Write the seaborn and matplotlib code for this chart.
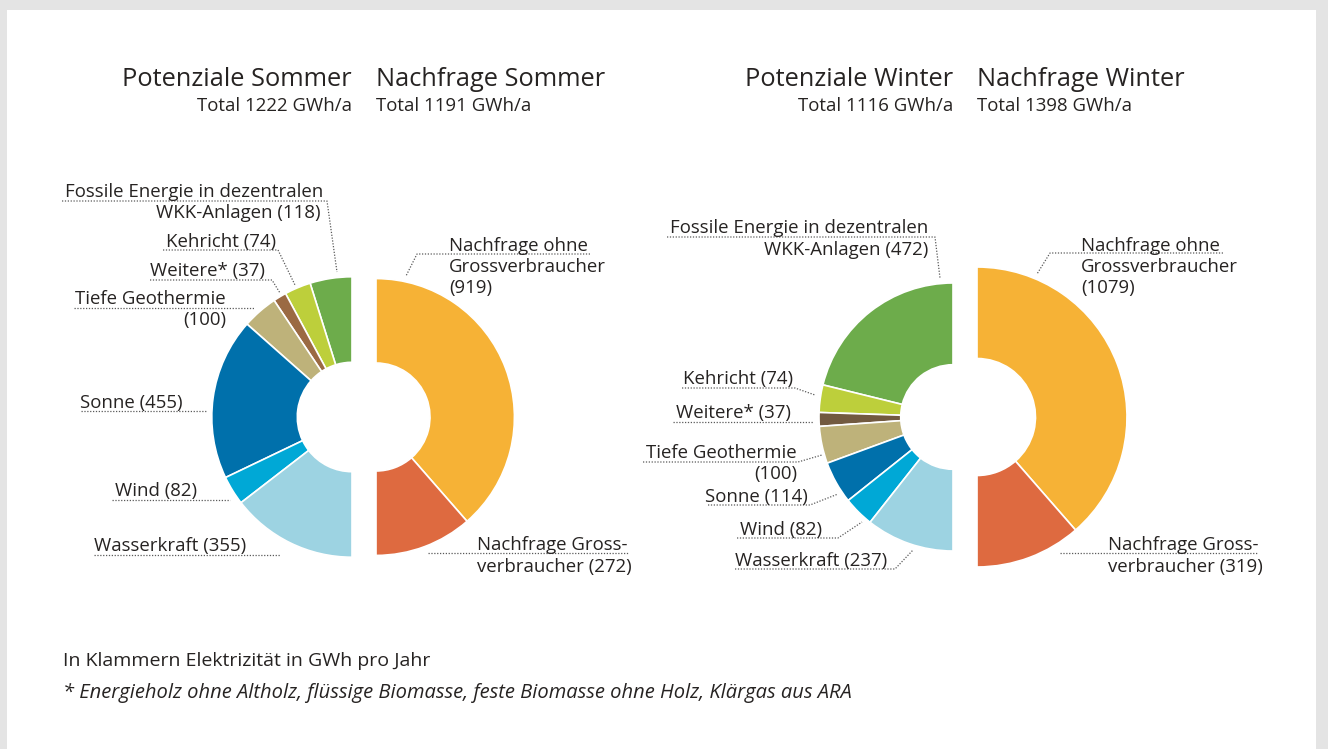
import matplotlib
matplotlib.use("Agg")
import matplotlib.pyplot as plt
import seaborn as sns
import numpy as np
from matplotlib.patches import Rectangle

# --- data -------------------------------------------------------------
pot_labels = ["Fossile Energie in dezentralen WKK-Anlagen", "Kehricht", "Weitere*",
              "Tiefe Geothermie", "Sonne", "Wind", "Wasserkraft"]
pot_summer = [118, 74, 37, 100, 455, 82, 355]
pot_winter = [472, 74, 37, 100, 114, 82, 237]

dem_labels = ["Nachfrage ohne Grossverbraucher", "Nachfrage Grossverbraucher"]
dem_summer = [919, 272]
dem_winter = [1079, 319]

totals_summer = [1222, 1191]
totals_winter = [1116, 1398]

pot_colors_summer = ["#6DAC4B", "#BDCF3B", "#9B6A43", "#BEB27A", "#0070AB", "#00A8D6", "#9DD3E2"]
pot_colors_winter = ["#6DAC4B", "#BDCF3B", "#725A40", "#BEB27A", "#0070AB", "#00A8D6", "#9DD3E2"]
dem_colors = ["#F6B236", "#DE6A40"]

# --- setup ------------------------------------------------------------
W, H = 1328, 749
sns.set_theme(style="white")
plt.rcParams["font.family"] = ["Open Sans", "DejaVu Sans"]
TXT = "#262322"
LEAD = "#5a5a5a"
LBL = 13.4

fig = plt.figure(figsize=(W / 100, H / 100), dpi=100)
fig.patch.set_facecolor("#e4e4e4")
ax = fig.add_axes([0, 0, 1, 1])

K = 134 / np.sqrt(1116)   # radius scale: area proportional to total
HOLE = 0.39
CY = H - 417


def half_donut(values, colors, total, cx, left):
    r = K * np.sqrt(total)
    vals = list(values) + [sum(values)]
    wedges, _ = ax.pie(vals, colors=list(colors) + ["white"], startangle=90,
                       counterclock=left, radius=r, center=(cx, CY),
                       wedgeprops=dict(width=r * (1 - HOLE), edgecolor="white", linewidth=1.2))
    wedges[-1].set_visible(False)


half_donut(pot_summer, sns.color_palette(pot_colors_summer), totals_summer[0], 352, True)
half_donut(dem_summer, sns.color_palette(dem_colors), totals_summer[1], 376, False)
half_donut(pot_winter, sns.color_palette(pot_colors_winter), totals_winter[0], 953, True)
half_donut(dem_winter, sns.color_palette(dem_colors), totals_winter[1], 977, False)

ax.add_patch(Rectangle((7, 0), 1309, H - 10, facecolor="white", edgecolor="none", zorder=-5))
ax.set_xlim(0, W)
ax.set_ylim(0, H)
ax.set_aspect("equal")
ax.axis("off")


def txt(x, y, s, ha="left", size=LBL, **kw):
    ax.text(x, H - y, s, ha=ha, va="baseline", fontsize=size, color=TXT, **kw)


def lead(pts):
    xs = [p[0] for p in pts]
    ys = [H - p[1] for p in pts]
    ax.plot(xs, ys, color=LEAD, lw=0.9, linestyle=(0, (1, 1.3)))


# --- titles -----------------------------------------------------------
txt(352, 86, "Potenziale Sommer", ha="right", size=18.3)
txt(376, 86, "Nachfrage Sommer", size=18.3)
txt(352, 111, f"Total {totals_summer[0]} GWh/a", ha="right")
txt(376, 111, f"Total {totals_summer[1]} GWh/a")
txt(953, 86, "Potenziale Winter", ha="right", size=18.3)
txt(977, 86, "Nachfrage Winter", size=18.3)
txt(953, 111, f"Total {totals_winter[0]} GWh/a", ha="right")
txt(977, 111, f"Total {totals_winter[1]} GWh/a")

# --- labels summer ----------------------------------------------------
ps, pw, ds, dw = pot_summer, pot_winter, dem_summer, dem_winter

txt(323, 197, "Fossile Energie in dezentralen", ha="right")
txt(320, 218, f"WKK-Anlagen ({ps[0]})", ha="right")
lead([(62, 201), (327, 201), (337, 272)])
txt(276, 247, f"Kehricht ({ps[1]})", ha="right")
lead([(163, 250), (278, 250), (295, 285)])
txt(265, 276, f"Weitere* ({ps[2]})", ha="right")
lead([(150, 280), (272, 280), (280, 293)])
txt(226, 304, "Tiefe Geothermie", ha="right")
txt(226, 325, f"({ps[3]})", ha="right")
lead([(74, 308), (255, 308)])
txt(183, 408, f"Sonne ({ps[4]})", ha="right")
lead([(81, 411), (207, 411)])
txt(197, 496, f"Wind ({ps[5]})", ha="right")
lead([(112, 500), (230, 500)])
txt(246, 551, f"Wasserkraft ({ps[6]})", ha="right")
lead([(94, 555), (280, 555)])

txt(449, 251, "Nachfrage ohne")
txt(449, 272, "Grossverbraucher")
txt(449, 293, f"({ds[0]})")
lead([(590, 254), (417, 254), (406, 276)])
txt(477, 550, "Nachfrage Gross-")
txt(477, 572, f"verbraucher ({ds[1]})")
lead([(428, 553), (628, 553)])

# --- labels winter ----------------------------------------------------
txt(928, 233, "Fossile Energie in dezentralen", ha="right")
txt(928, 255, f"WKK-Anlagen ({pw[0]})", ha="right")
lead([(667, 237), (935, 237), (940, 278)])
txt(793, 384, f"Kehricht ({pw[1]})", ha="right")
lead([(682, 388), (795, 388), (815, 395)])
txt(791, 418, f"Weitere* ({pw[2]})", ha="right")
lead([(673, 422), (813, 422)])
txt(797, 458, "Tiefe Geothermie", ha="right")
txt(797, 479, f"({pw[3]})", ha="right")
lead([(643, 462), (798, 462), (822, 455)])
txt(808, 502, f"Sonne ({pw[4]})", ha="right")
lead([(708, 505), (810, 505), (838, 494)])
txt(822, 535, f"Wind ({pw[5]})", ha="right")
lead([(737, 538), (838, 538), (862, 522)])
txt(887, 566, f"Wasserkraft ({pw[6]})", ha="right")
lead([(735, 569), (895, 569), (913, 550)])

txt(1081, 251, "Nachfrage ohne")
txt(1081, 272, "Grossverbraucher")
txt(1081, 293, f"({dw[0]})")
lead([(1223, 253), (1050, 253), (1037, 274)])
txt(1108, 550, "Nachfrage Gross-")
txt(1108, 572, f"verbraucher ({dw[1]})")
lead([(1060, 553), (1257, 553)])

# --- footnotes --------------------------------------------------------
txt(63, 666, "In Klammern Elektrizität in GWh pro Jahr", size=14)
txt(63, 698, "* Energieholz ohne Altholz, flüssige Biomasse, feste Biomasse ohne Holz, Klärgas aus ARA",
    size=14.5, style="italic")

fig.savefig("out.png", dpi=100, facecolor=fig.get_facecolor())
